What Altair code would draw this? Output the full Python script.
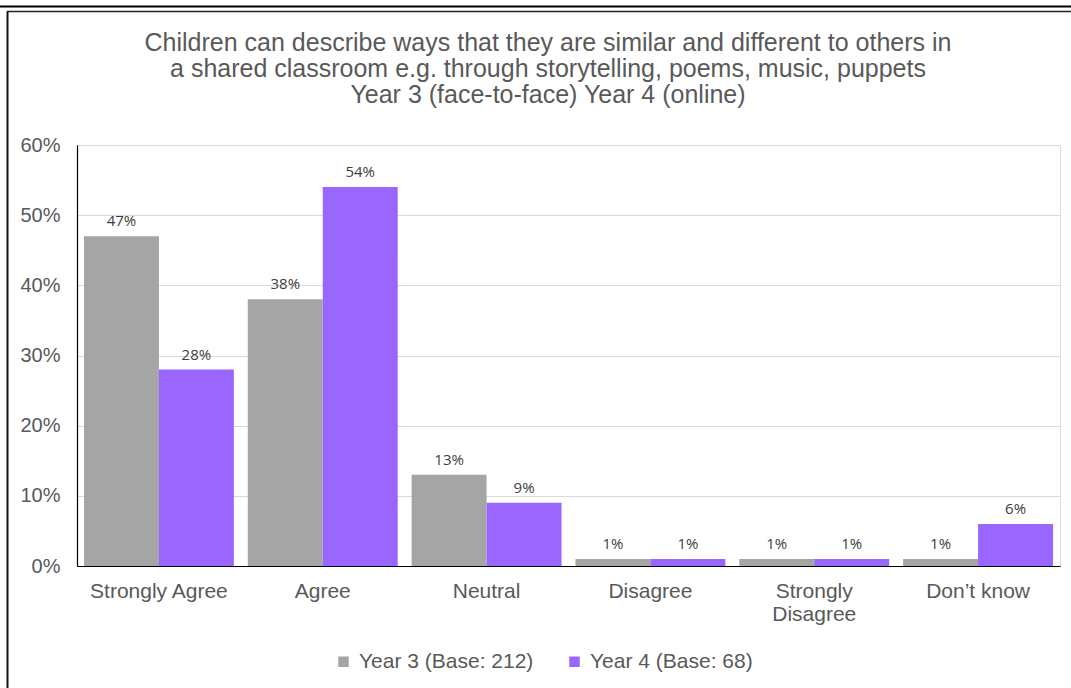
import altair as alt
import pandas as pd

categories = ["Strongly Agree", "Agree", "Neutral", "Disagree", "Strongly Disagree", "Don\u2019t know"]
series = ["Year 3 (Base: 212)", "Year 4 (Base: 68)"]
year3 = [0.47, 0.38, 0.13, 0.01, 0.01, 0.01]
year4 = [0.28, 0.54, 0.09, 0.01, 0.01, 0.06]
colors = ["#A5A5A5", "#9966FF"]

title_lines = [
    "Children can describe ways that they are similar and different to others in",
    "a shared classroom e.g. through storytelling, poems, music, puppets",
    "Year 3 (face-to-face) Year 4 (online)",
]

rows = []
for cat, a, b in zip(categories, year3, year4):
    rows.append({"category": cat, "series": series[0], "value": a})
    rows.append({"category": cat, "series": series[1], "value": b})
df = pd.DataFrame(rows)

FONT = "Liberation Sans"
TEXT = "#595959"
PLOT_W, PLOT_H = 983, 421

x_enc = alt.X(
    "category:N",
    sort=categories,
    scale=alt.Scale(paddingInner=0.085, paddingOuter=0.0425),
    axis=alt.Axis(
        title=None,
        labelAngle=0,
        labelFont=FONT,
        labelFontSize=21,
        labelColor=TEXT,
        labelPadding=14,
        labelLineHeight=23,
        ticks=False,
        domainColor="#000000",
        domainWidth=1.2,
        labelExpr="datum.label == 'Strongly Disagree' ? ['Strongly', 'Disagree'] : datum.label",
    ),
)
off_enc = alt.XOffset("series:N", sort=series, scale=alt.Scale(paddingInner=0, paddingOuter=0))

bars = alt.Chart(df).mark_bar().encode(
    x=x_enc,
    xOffset=off_enc,
    y=alt.Y(
        "value:Q",
        scale=alt.Scale(domain=[0, 0.6], nice=False),
        axis=alt.Axis(
            title=None,
            format=".0%",
            values=[0, 0.1, 0.2, 0.3, 0.4, 0.5, 0.6],
            labelFont=FONT,
            labelFontSize=20,
            labelColor=TEXT,
            labelPadding=17,
            ticks=False,
            domainColor="#000000",
            domainWidth=1.2,
            gridColor="#D9D9D9",
            gridWidth=1,
        ),
    ),
    color=alt.Color(
        "series:N",
        sort=series,
        scale=alt.Scale(domain=series, range=colors),
        legend=alt.Legend(
            title=None,
            orient="none",
            direction="horizontal",
            legendX=256,
            legendY=506,
            symbolType="square",
            symbolSize=110,
            symbolStrokeWidth=0,
            labelFont=FONT,
            labelFontSize=21,
            labelColor=TEXT,
            labelOffset=5,
            labelLimit=400,
            columnPadding=30,
        ),
    ),
)

labels = alt.Chart(df).mark_text(
    baseline="bottom", dy=-7, font="Open Sans", fontSize=15, color="#404040"
).encode(
    x=alt.X("category:N", sort=categories),
    xOffset=alt.XOffset("series:N", sort=series),
    y="value:Q",
    text=alt.Text("value:Q", format=".0%"),
)

frame_src = alt.Chart(pd.DataFrame({"k": [0]}))

# chart heading, centred on the chart area
heading = frame_src.mark_text(
    font=FONT, fontSize=25, color=TEXT, align="center", baseline="alphabetic", lineHeight=26
).encode(
    x=alt.value(471), y=alt.value(-94), text=alt.value(title_lines)
)

# outer frame lines
top_thick = frame_src.mark_rule(color="#000000", strokeWidth=2.2).encode(
    x=alt.value(-77), x2=alt.value(994), y=alt.value(-138.5)
)
top_thin = frame_src.mark_rule(color="#222222", strokeWidth=1.5).encode(
    x=alt.value(-70), x2=alt.value(994), y=alt.value(-133.5)
)
left_line = frame_src.mark_rule(color="#111111", strokeWidth=2).encode(
    x=alt.value(-69.5), y=alt.value(-133.5), y2=alt.value(543)
)

chart = alt.layer(bars, labels, heading, top_thick, top_thin, left_line).properties(
    width=PLOT_W,
    height=PLOT_H,
    autosize=alt.AutoSizeParams(type="none"),
    padding={"left": 77, "top": 145, "right": 11, "bottom": 122},
).configure_view(stroke=None).configure(background="white")

chart.save("out.html", embed_options={"renderer": "svg", "actions": False})
